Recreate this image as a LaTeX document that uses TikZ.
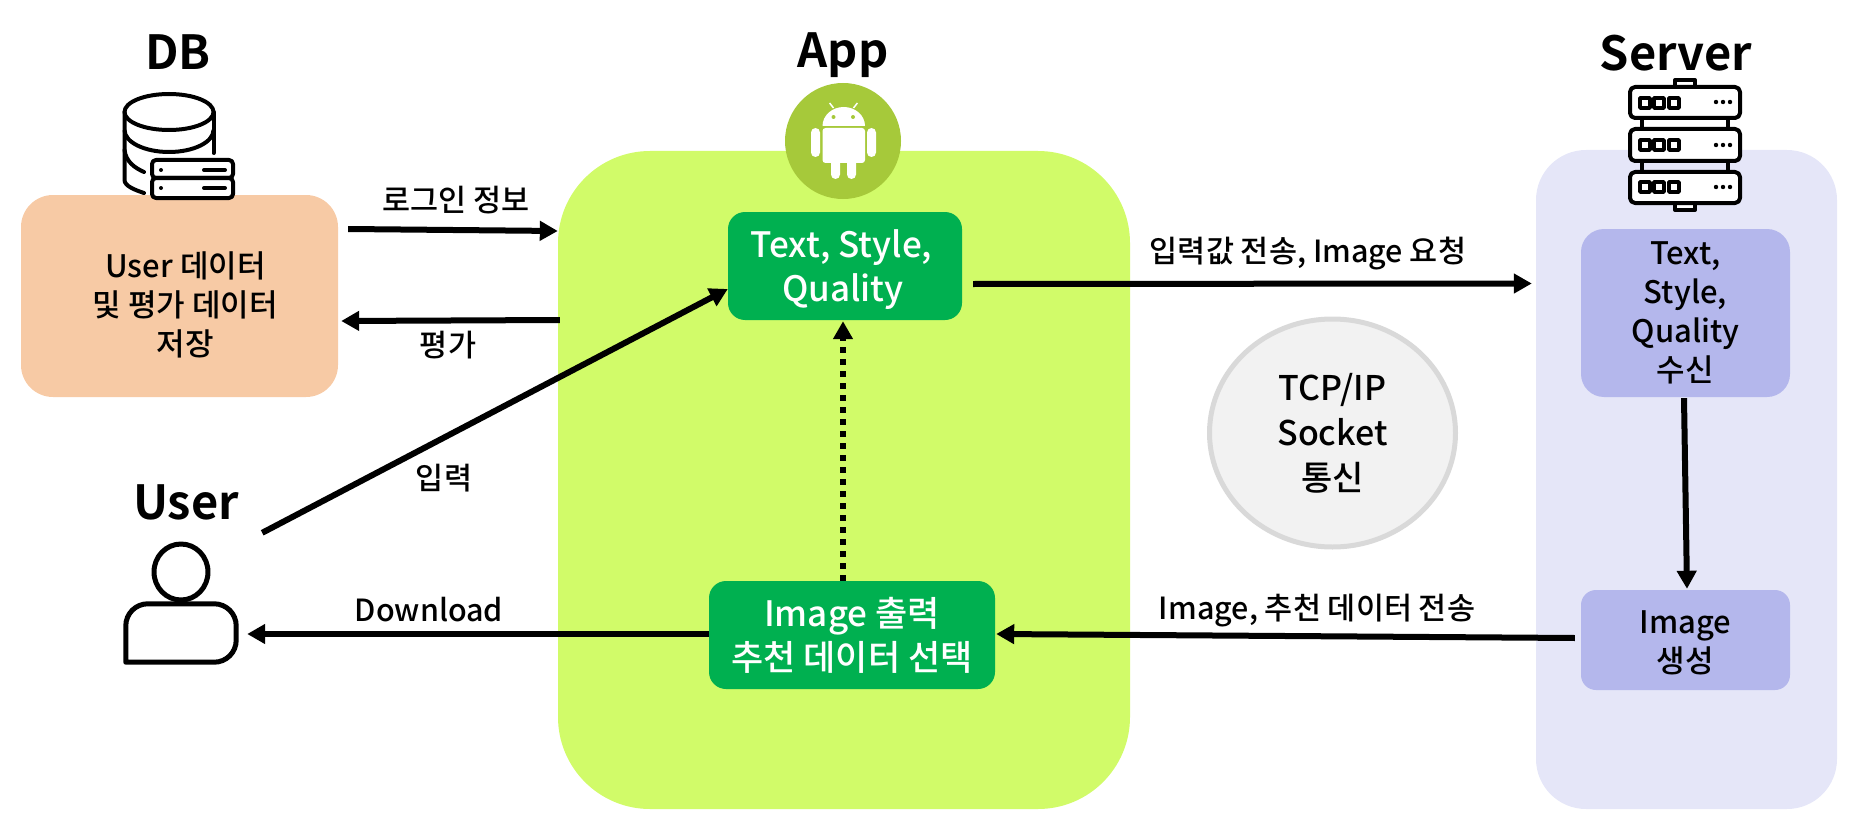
\documentclass[tikz,border=0pt]{standalone}
\usepackage{fontspec}
\setmainfont{Noto Sans CJK KR Medium}[BoldFont={Noto Sans CJK KR Bold}]
\usetikzlibrary{positioning,shapes.geometric,arrows.meta}
\definecolor{appgreen}{HTML}{D1FB69}
\definecolor{boxgreen}{HTML}{00B050}
\definecolor{droid}{HTML}{A6C93A}
\definecolor{peach}{HTML}{F7CAA5}
\definecolor{srvpanel}{HTML}{E5E6F8}
\definecolor{srvbox}{HTML}{B4B7EC}
\definecolor{tcpfill}{HTML}{F2F2F2}
\definecolor{tcpline}{HTML}{D9D9D9}

\begin{document}
\begin{tikzpicture}[x=1pt,y=-1pt]
\tikzstyle{panel}=[rectangle, inner sep=0pt]
\tikzstyle{title}=[inner sep=0pt, font=\fontsize{47}{50}\selectfont\bfseries]
\tikzstyle{label}=[inner sep=0pt, font=\fontsize{30.5}{39}\selectfont]
\tikzstyle{boxtext}=[panel, align=center, font=\fontsize{31}{39}\selectfont]
\tikzstyle{greenbox}=[panel, align=center, fill=boxgreen, text=white, rounded corners=17pt, font=\fontsize{35}{44}\selectfont]
\tikzstyle{bluebox}=[boxtext, fill=srvbox, minimum width=209pt]
\tikzstyle{icon}=[line width=4pt, draw=black, line join=round]
\tikzstyle{connect}=[line width=6pt, -{Triangle[length=18pt,width=19pt]}]
\useasboundingbox (0,0) rectangle (1853,824);
	\node[panel,fill=appgreen,minimum width=572pt,minimum height=658pt,rounded corners=92pt] (app_box) at (844,480) {};
	\node[panel,fill=srvpanel,minimum width=301pt,minimum height=659pt,rounded corners=50pt] (srv_panel) at (1686.5,479.5) {};
	\node[boxtext,fill=peach,minimum width=317pt,minimum height=202pt,rounded corners=32pt] (db_box) at (179.5,296) {\hspace*{12pt}\rule{0pt}{44pt}User 데이터\\\hspace*{12pt}및 평가 데이터\\\hspace*{12pt}저장};
	\node[greenbox,minimum width=234pt,minimum height=108pt] (input_box) at (845,266) {\rule{0pt}{36pt}Text, Style,\hspace*{7pt}\\Quality\hspace*{4pt}};
	\node[greenbox,minimum width=286pt,minimum height=108pt] (output_box) at (852,635) {Image 출력\\추천 데이터 선택};
	\node[bluebox,minimum height=168pt,rounded corners=23pt] (recv_box) at (1685.5,313) {Text,\\Style,\\Quality\\수신};
	\node[bluebox,minimum height=100pt,rounded corners=15pt] (gen_box) at (1685.5,640) {\rule{0pt}{28pt}Image\\생성};
	\node[boxtext,ellipse,fill=tcpfill,draw=tcpline,line width=5pt,minimum width=246pt,minimum height=228pt,font=\fontsize{34}{45}\selectfont] (tcp) at (1332.5,433) {TCP/IP\\Socket\\통신};

	\node[title] (db_title) at (178,52) {DB};
	\node[title] (app_title) at (843,55) {App};
	\node[title] (srv_title) at (1676,53) {Server};
	\node[title] (user_title) at (186,502) {User};

	\node[label] (login_label) at (456,200) {로그인 정보};
	\node[label] (eval_label) at (448,345) {평가};
	\node[label] (typed_label) at (444,478) {입력};
	\node[label] (down_label) at (429,610) {Download};
	\node[label] (send_label) at (1308,254) {입력값 전송, Image 요청};
	\node[label] (back_label) at (1317,611) {Image, 추천 데이터 전송};

	\draw[icon] (169,112) ellipse [x radius=44.5pt, y radius=18pt];
	\draw[icon] (124.5,130) arc [start angle=180, end angle=360, x radius=44.5pt, y radius=22pt];
	\draw[icon,line cap=round] (213.5,112) -- (213.5,153);
	\draw[icon,line cap=round] (124.5,112) -- (124.5,180) .. controls (124.5,186) and (135,190) .. (144,193);
	\draw[icon,line cap=round] (124.5,150) .. controls (126,162) and (135,168) .. (144,172);
	\draw[icon,fill=white,rounded corners=4pt] (152,160) rectangle (233,178);
	\draw[icon,fill=white,rounded corners=4pt] (152,178) rectangle (233,198);
	\fill (161,170) circle (2pt) (161,188) circle (2pt);
	\draw[icon,line cap=round] (204,170) -- (225,170) (204,188) -- (225,188);

	\node[circle,fill=droid,minimum size=116pt,inner sep=0pt] (droid_icon) at (843,141) {};
	\fill[white] (822.5,126) arc [start angle=180, end angle=0, x radius=21.25pt, y radius=19pt] -- cycle;
	\fill[white,rounded corners=3pt] (822.5,128) rectangle (865,163);
	\fill[white,rounded corners=4.5pt] (811,128) rectangle (820,157);
	\fill[white,rounded corners=4.5pt] (867,128) rectangle (876,157);
	\fill[white,rounded corners=4.5pt] (831,155) rectangle (840,179);
	\fill[white,rounded corners=4.5pt] (847,155) rectangle (856,179);
	\draw[white,line width=1.5pt] (833.5,108) -- (829.6,103) (853.5,108) -- (857.4,103);
	\fill[droid] (833.5,117) circle (2pt) (853,117) circle (2pt);

	\draw[icon,fill=white] (1675,80) rectangle (1695,90);
	\draw[icon,fill=white] (1675,200) rectangle (1695,210);
	\draw[icon] (1641.5,118) -- (1641.5,172) (1728,118) -- (1728,172);
	\draw[icon,fill=white,rounded corners=5pt] (1630,87) rectangle (1740,118);
	\draw[icon,fill=white,rounded corners=5pt] (1630,129) rectangle (1740,161);
	\draw[icon,fill=white,rounded corners=5pt] (1630,172) rectangle (1740,203);
	\draw[icon,line width=3.5pt] (1640,98) rectangle (1650,108) (1654,98) rectangle (1664,108) (1669,98) rectangle (1679,108);
	\draw[icon,line width=3.5pt] (1640,140) rectangle (1650,150) (1654,140) rectangle (1664,150) (1669,140) rectangle (1679,150);
	\draw[icon,line width=3.5pt] (1640,182) rectangle (1650,192) (1654,182) rectangle (1664,192) (1669,182) rectangle (1679,192);
	\fill (1716,102) circle (2.2pt) (1723,102) circle (2.2pt) (1730,102) circle (2.2pt);
	\fill (1716,145) circle (2.2pt) (1723,145) circle (2.2pt) (1730,145) circle (2.2pt);
	\fill (1716,187) circle (2.2pt) (1723,187) circle (2.2pt) (1730,187) circle (2.2pt);

	\draw[icon,line width=5pt] (181,572) ellipse [x radius=27pt, y radius=28pt];
	\node[panel,minimum width=110pt,minimum height=58pt] (user_body) at (181,633) {};
	\draw[icon,line width=5pt] (user_body.south west) [rounded corners=22pt] -- (user_body.north west) -- (user_body.north east) -- (user_body.south east) [sharp corners] -- cycle;

	\path
		([xshift=10pt,yshift=67pt]db_box.east) edge [connect] ([yshift=249pt]app_box.west)
		([xshift=2pt,yshift=160pt]app_box.west) edge [connect] ([xshift=3pt,yshift=-25pt]db_box.east)
		([xshift=26pt,yshift=71pt]user_body.north east) edge [connect] ([yshift=-23pt]input_box.west)
		([xshift=11pt,yshift=-18pt]input_box.east) edge [connect] ([xshift=-4pt,yshift=196pt]srv_panel.west)
		([xshift=-1.5pt,yshift=-1pt]recv_box.south) edge [connect] ([xshift=1.5pt,yshift=1pt]gen_box.north)
		([xshift=-6pt,yshift=2pt]gen_box.west) edge [connect] ([xshift=1pt,yshift=1pt]output_box.east)
		([yshift=1pt]output_box.west) edge [connect] ([xshift=11pt,yshift=-1pt]user_body.east)
		([xshift=-9pt]output_box.north) edge [connect,dash pattern=on 6pt off 6pt] ([xshift=-2pt,yshift=-1pt]input_box.south);

\end{tikzpicture}
\end{document}
